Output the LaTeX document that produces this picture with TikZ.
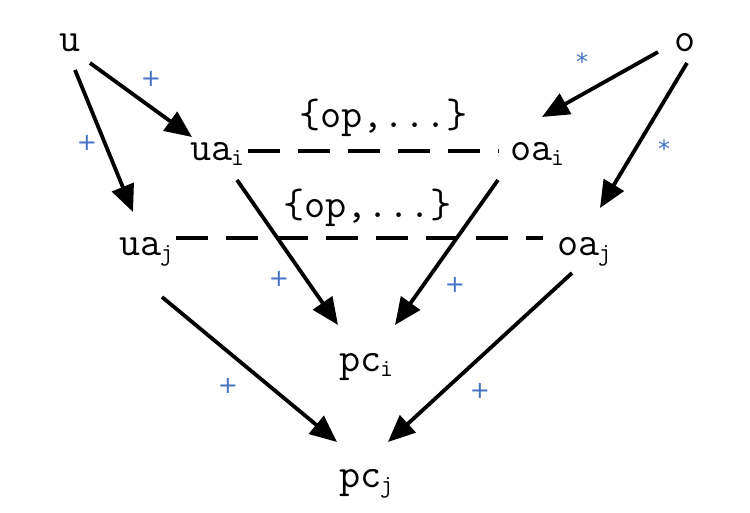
\documentclass[tikz,border=0pt]{standalone}
\usepackage{fontspec}
\newfontfamily\lblfont{DejaVu Sans}
\usetikzlibrary{arrows.meta,calc}
\definecolor{lblblue}{RGB}{68,114,196}
\newcommand{\mysub}[1]{\kern-1pt\raisebox{-5pt}{\fontsize{25}{25}\selectfont #1}}
\tikzset{
  txt/.style={inner sep=0pt,outer sep=0pt,anchor=base west,font=\ttfamily\fontsize{41}{44}\selectfont},
  sym/.style={inner sep=0pt,outer sep=0pt,anchor=base,font=\ttfamily\fontsize{41}{44}\selectfont},
  lbl/.style={inner sep=0pt,outer sep=0pt,anchor=base,text=lblblue,font=\lblfont\fontsize{24}{24}\selectfont},
  arr/.style={line width=3.8pt,-{Triangle[length=27pt,width=23pt]}},
  dsh/.style={line width=3.8pt,dash pattern=on 32pt off 18pt}
}
\begin{document}
\begin{tikzpicture}[x=1pt,y=-1pt]
\useasboundingbox (0,0) rectangle (750,513);
% nodes
\node[sym] (u) at (70,52) {u};
\node[sym] (o) at (685,52) {o};
\node[txt] (uai) at (190,161) {ua\mysub{i}};
\node[txt] (oai) at (510,161) {oa\mysub{i}};
\node[txt] (uaj) at (119,256) {ua\mysub{j}};
\node[txt] (oaj) at (557,256) {oa\mysub{j}};
\node[txt] (pci) at (339,371) {pc\mysub{i}};
\node[txt] (pcj) at (339,487) {pc\mysub{j}};
\node[txt] (opi) at (299,128) {\{op,...\}};
\node[txt] (opj) at (283,218) {\{op,...\}};
% dashed relations
\draw[dsh] ($(uai.base west)+(58,-10)$) -- ($(oai.base west)+(-11,-10)$);
\draw[dsh] ($(uaj.base west)+(57,-18)$) -- ($(oaj.base west)+(-14,-18)$);
% arrows
\draw[arr] ($(u.base)+(20,11)$) -- ($(uai.base west)+(2,-24)$);
\draw[arr] ($(u.base)+(5,18)$) -- ($(uaj.base west)+(14,-44)$);
\draw[arr] ($(o.base)+(-27,0)$) -- ($(oai.base west)+(32,-44)$);
\draw[arr] ($(o.base)+(2,11)$) -- ($(oaj.base west)+(43,-48)$);
\draw[arr] ($(uai.base west)+(47,19)$) -- ($(pci.base west)+(-1,-46)$);
\draw[arr] ($(oai.base west)+(-12,19)$) -- ($(pci.base west)+(56,-46)$);
\draw[arr] ($(uaj.base west)+(43,41)$) -- ($(pcj.base west)+(-2,-45)$);
\draw[arr] ($(oaj.base west)+(15,17)$) -- ($(pcj.base west)+(49,-45)$);
% labels
\node[lbl] (l1) at (151,87) {+};
\node[lbl] (l2) at (87,151) {+};
\node[lbl] (l3) at (582,71) {*};
\node[lbl] (l4) at (664,158) {*};
\node[lbl] (l5) at (279,287) {+};
\node[lbl] (l6) at (455,292) {+};
\node[lbl] (l7) at (228,393) {+};
\node[lbl] (l8) at (480,398) {+};
\end{tikzpicture}
\end{document}
